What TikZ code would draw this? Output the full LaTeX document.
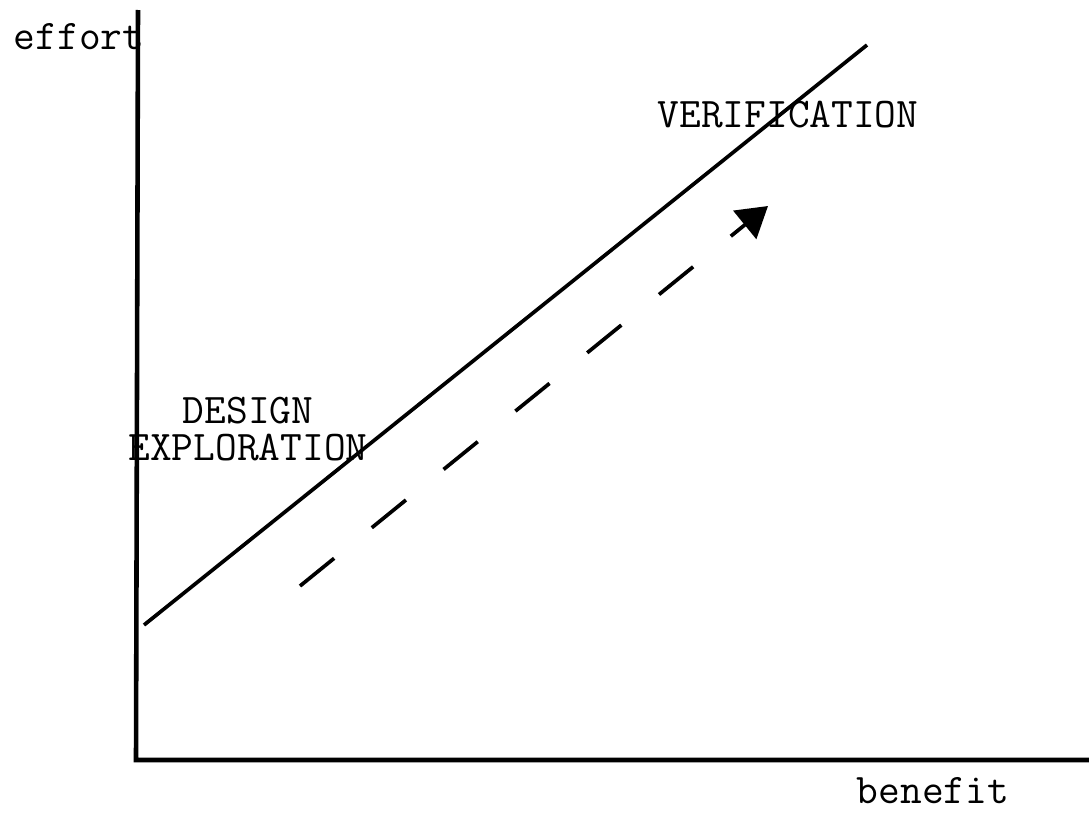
\documentclass[tikz,border=0pt]{standalone}
\usetikzlibrary{arrows.meta}
\tikzset{
  axis/.style={line width=1.3pt},
  trend/.style={line width=1.05pt},
  label/.style={font=\ttfamily\fontsize{12pt}{10.5pt}\selectfont, inner sep=0pt, anchor=base},
}
\begin{document}
\begin{tikzpicture}[x=0.01cm, y=-0.01cm]
\useasboundingbox (0,0) rectangle (1089,812);
\coordinate (ytop) at (138,10);
\coordinate (origin) at (136,760);
\coordinate (xend) at (1089,760);
\coordinate (lowend) at (144,625);
\coordinate (highend) at (867,45);
\coordinate (dstart) at (300,586);
\coordinate (dtip) at (768,206);
% axes
\draw[axis] (ytop) -- (origin) -- (xend);
\node[label] (yname) at (79,49) {effort};
\node[label] (xname) at (933,803) {benefit};
% diagonal
\draw[trend] (lowend) -- (highend);
% direction of travel
\draw[trend, dash pattern=on 12.5pt off 13.8pt, -{Triangle[length=0.3cm, width=0.36cm]}] (dstart) -- (dtip);
\node[label] (verif) at (788,127) {VERIFICATION};
\node[label, align=center] (explore) at (248,460) {DESIGN\\EXPLORATION};
\end{tikzpicture}
\end{document}
